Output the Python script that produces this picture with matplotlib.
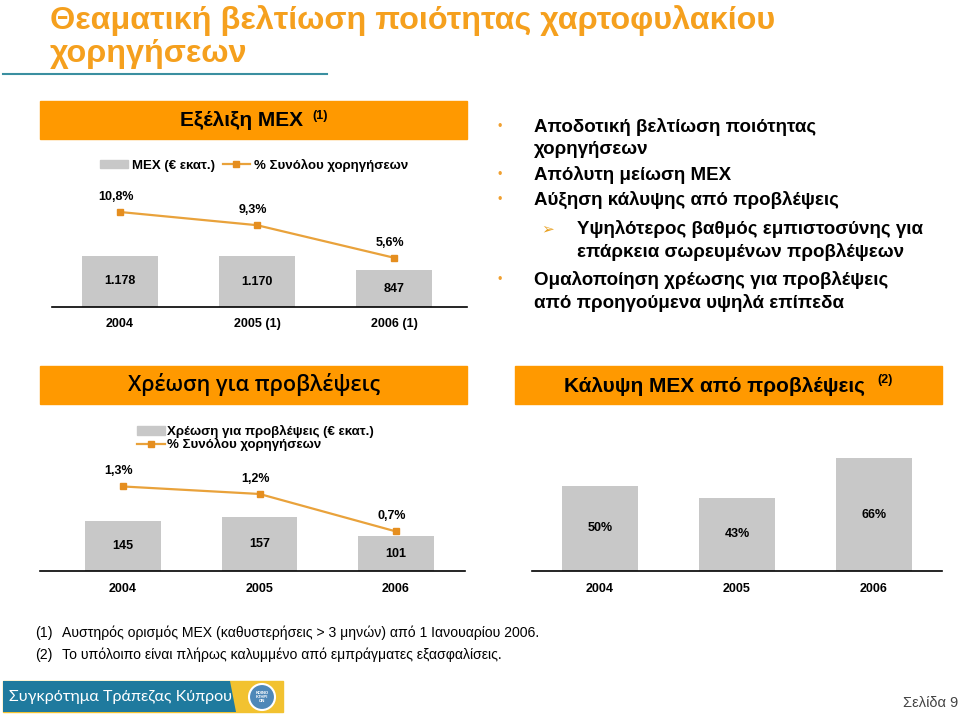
import numpy as np
import matplotlib
matplotlib.use('Agg')
import matplotlib.pyplot as plt
from matplotlib.patches import Rectangle, Ellipse, Patch, Polygon
from matplotlib.lines import Line2D

plt.rcParams['font.family'] = ['Liberation Sans', 'DejaVu Sans']

W, H = 960, 715

# data
years_npl = ['2004', '2005 (1)', '2006 (1)']
npl = [1178, 1170, 847]
npl_lab = ['1.178', '1.170', '847']
npl_pct = [10.8, 9.3, 5.6]
npl_pct_lab = ['10,8%', '9,3%', '5,6%']

years = ['2004', '2005', '2006']
charge = [145, 157, 101]
charge_pct = [1.3, 1.2, 0.7]
charge_pct_lab = ['1,3%', '1,2%', '0,7%']

coverage = [50, 43, 66]
coverage_lab = ['50%', '43%', '66%']

bullets = [
    ('•', ['Αποδοτική βελτίωση ποιότητας', 'χορηγήσεων']),
    ('•', ['Απόλυτη μείωση ΜΕΧ']),
    ('•', ['Αύξηση κάλυψης από προβλέψεις']),
    ('➢', ['Υψηλότερος βαθμός εμπιστοσύνης για', 'επάρκεια σωρευμένων προβλέψεων']),
    ('•', ['Ομαλοποίηση χρέωσης για προβλέψεις', 'από προηγούμενα υψηλά επίπεδα']),
]
notes = ['Αυστηρός ορισμός ΜΕΧ (καθυστερήσεις > 3 μηνών) από 1 Ιανουαρίου 2006.',
         'Το υπόλοιπο είναι πλήρως καλυμμένο από εμπράγματες εξασφαλίσεις.']

ORANGE = '#FF9900'
GRAY = '#C8C8C8'
LINE = '#E9A23B'
MARK = '#E58E1F'

fig = plt.figure(figsize=(W / 100, H / 100), dpi=100)
fig.patch.set_facecolor('white')


def box(x0, y0, x1, y1):
    return [x0 / W, 1 - y1 / H, (x1 - x0) / W, (y1 - y0) / H]


def ft(x, y, s, **kw):
    return fig.text(x / W, 1 - y / H, s, **kw)


def rect(x0, y0, x1, y1, color):
    fig.patches.append(Rectangle((x0 / W, 1 - y1 / H), (x1 - x0) / W, (y1 - y0) / H,
                                 transform=fig.transFigure, color=color, zorder=0))


# title
ft(50, 29, 'Θεαματική βελτίωση ποιότητας χαρτοφυλακίου', fontsize=23.3, color='#F5A01E',
   fontweight='bold', va='baseline')
ft(50, 62, 'χορηγήσεων', fontsize=23.3, color='#F5A01E', fontweight='bold', va='baseline')
fig.lines.append(Line2D([3 / W, 327 / W], [1 - 74 / H, 1 - 74 / H], transform=fig.transFigure,
                        color='#3A8FA0', lw=1.5))

# header boxes
rect(40, 101, 467, 139, ORANGE)
ft(242, 121, 'Εξέλιξη ΜΕΧ', fontsize=15, fontweight='bold', ha='center', va='center')
ft(312, 116, '(1)', fontsize=9, fontweight='bold', ha='left', va='center')
rect(40, 366, 467, 404, ORANGE)
ft(254, 385, 'Χρέωση για προβλέψεις', fontsize=15.5, fontweight='semibold', ha='center',
   va='center', family=['Open Sans', 'DejaVu Sans'])
rect(515, 366, 942, 404, ORANGE)
ft(715, 386, 'Κάλυψη ΜΕΧ από προβλέψεις', fontsize=15, fontweight='bold', ha='center', va='center')
ft(877, 380, '(2)', fontsize=9, fontweight='bold', ha='left', va='center')


def style(ax, pad):
    for s in ['top', 'left', 'right']:
        ax.spines[s].set_visible(False)
    ax.spines['bottom'].set_color('black')
    ax.spines['bottom'].set_linewidth(1.2)
    ax.set_yticks([])
    ax.tick_params(axis='x', length=0, pad=pad)
    for t in ax.get_xticklabels():
        t.set_fontweight('bold')
        t.set_fontsize(9)
    ax.patch.set_alpha(0)


def twin_line(ax, vals, labs, ylim):
    axb = ax.twinx()
    x = np.arange(len(vals))
    axb.plot(x, vals, color=LINE, lw=1.6, marker='s', ms=5, mfc=MARK, mec=MARK)
    axb.set_ylim(*ylim)
    axb.set_yticks([])
    for s in axb.spines.values():
        s.set_visible(False)
    for xi, v, lab in zip(x, vals, labs):
        axb.annotate(lab, (xi, v), xytext=(-4, 15), textcoords='offset pixels',
                     ha='center', va='center', fontsize=9, fontweight='bold')
    return axb


# top chart: NPL
ax1 = fig.add_axes(box(52, 190, 467, 307))
x = np.arange(3)
ax1.bar(x, npl, width=0.55, color=GRAY)
ax1.set_xlim(-0.496, 2.533)
ax1.set_ylim(0, 2700)
ax1.set_xticks(x, years_npl)
style(ax1, 8)
for xi, v, lab in zip(x, npl, npl_lab):
    ax1.text(xi, v / 2, lab, ha='center', va='center', fontsize=9, fontweight='bold')
twin_line(ax1, npl_pct, npl_pct_lab, (0, 13.3))

h_bar = Patch(color=GRAY)
h_line = Line2D([], [], color=LINE, lw=1.6, marker='s', ms=5, mfc=MARK, mec=MARK)
fig.legend([h_bar, h_line], ['ΜΕΧ (€ εκατ.)', '% Συνόλου χορηγήσεων'], loc='center left',
           bbox_to_anchor=(100 / W, 1 - 165 / H), ncol=2, frameon=False, borderpad=0,
           borderaxespad=0, handlelength=2.1, handleheight=0.6, handletextpad=0.3,
           columnspacing=0.6, prop={'size': 9.5, 'weight': 'bold'})

# bottom-left chart: provisions charge
ax2 = fig.add_axes(box(40, 460, 465, 571))
ax2.bar(x, charge, width=0.556, color=GRAY)
ax2.set_xlim(-0.608, 2.505)
ax2.set_ylim(0, 322)
ax2.set_xticks(x, years)
style(ax2, 9)
for xi, v in zip(x, charge):
    ax2.text(xi, v / 2, str(v), ha='center', va='center', fontsize=9, fontweight='bold')
twin_line(ax2, charge_pct, charge_pct_lab, (0.173, 1.653))

fig.legend([h_bar, h_line], ['Χρέωση για προβλέψεις (€ εκατ.)', '% Συνόλου χορηγήσεων'],
           loc='upper left', bbox_to_anchor=(137 / W, 1 - 425 / H), ncol=1, frameon=False,
           borderpad=0, borderaxespad=0, handlelength=2.1, handleheight=0.6, handletextpad=0.2,
           labelspacing=0.0, prop={'size': 9.5, 'weight': 'bold'})

# bottom-right chart: coverage
ax3 = fig.add_axes(box(532, 450, 942, 571))
ax3.bar(x, coverage, width=0.55, color=GRAY)
ax3.set_xlim(-0.496, 2.496)
ax3.set_ylim(0, 70.8)
ax3.set_xticks(x, years)
style(ax3, 9)
for xi, v, lab in zip(x, coverage, coverage_lab):
    ax3.text(xi, v / 2, lab, ha='center', va='center', fontsize=9, fontweight='bold')

# bullets
ys = [127, 175, 200, 229, 280]
for (sym, lines), y in zip(bullets, ys):
    if sym == '•':
        ft(500, y, sym, fontsize=9, color='#F0A030', va='center', ha='center')
        tx = 534
    else:
        ft(548, y, sym, fontsize=11, color='#E8A020', va='center', ha='center',
           family='DejaVu Sans')
        tx = 577
    for i, line in enumerate(lines):
        ft(tx, y + i * 23, line, fontsize=13.5, fontweight='bold', va='center')

# footnotes
for i, n in enumerate(notes):
    ft(35, 633 + i * 22, '(%d)' % (i + 1), fontsize=10.2, va='center')
    ft(62, 633 + i * 22, n, fontsize=10.1, va='center')

# logo
rect(3, 681, 283, 712, '#F2C230')
fig.patches.append(Polygon([(3 / W, 1 - 681 / H), (230 / W, 1 - 681 / H), (236 / W, 1 - 712 / H),
                            (3 / W, 1 - 712 / H)], closed=True, transform=fig.transFigure,
                           facecolor='#1F7A9E', edgecolor='none', zorder=1))
fig.patches.append(Ellipse((262 / W, 1 - 697 / H), 26 / W, 26 / H, transform=fig.transFigure,
                           facecolor='#4F88B8', edgecolor='white', lw=1.5, zorder=2))
ft(262, 697, 'ΚΟΙΝΟ\nΚΤΗΡΙ\nΩΝ', fontsize=3, color='white', ha='center', va='center',
   fontweight='bold', linespacing=0.9)
ft(9, 697, 'Συγκρότημα Τράπεζας Κύπρου', fontsize=11.6, color='white', va='center',
   family=['Lato', 'DejaVu Sans'])
ft(958, 703, 'Σελίδα 9', fontsize=10.5, color='#444444', va='center', ha='right')

fig.savefig('out.png', dpi=100)
